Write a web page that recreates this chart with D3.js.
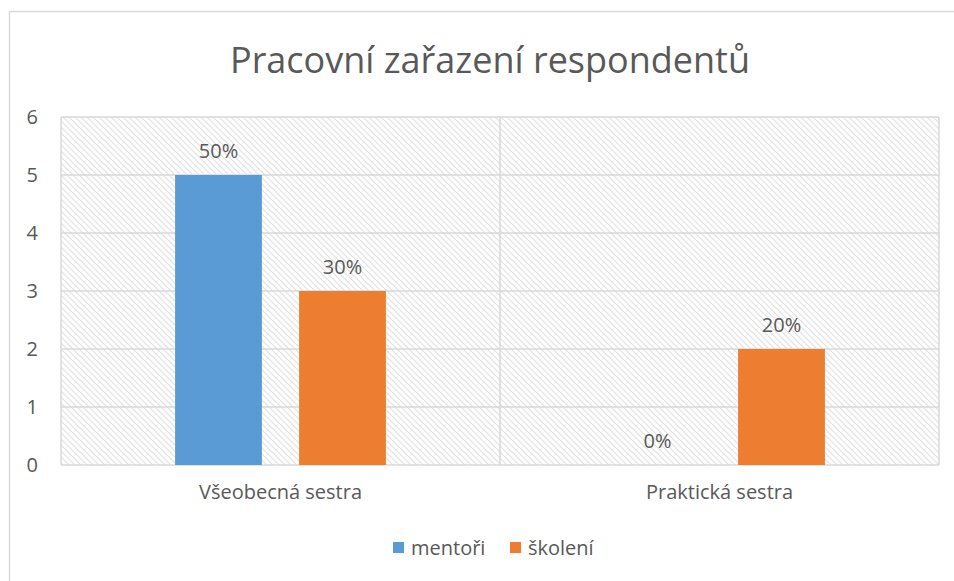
<!DOCTYPE html>
<html>
<head>
<meta charset="utf-8">
<script src="https://cdn.jsdelivr.net/npm/d3@7"></script>
<style>
  body { margin: 0; background: #fff; }
  svg text { font-family: "Open Sans", sans-serif; fill: #595959; }
</style>
</head>
<body>
<div id="chart"></div>
<script>
// Data
const categories = ['Všeobecná sestra', 'Praktická sestra'];
const seriesNames = ['mentoři', 'školení'];
const mentori = [5, 0];
const skoleni = [3, 2];
const mentoriLabels = ['50%', '0%'];
const skoleniLabels = ['30%', '20%'];
const yTicks = [0, 1, 2, 3, 4, 5, 6];
const colors = ['#5b9bd5', '#ed7d31'];

const W = 954, H = 581;
const plot = { left: 61, right: 939, top: 117, bottom: 465 };

const svg = d3.select('#chart').append('svg')
    .attr('width', W)
    .attr('height', H);

// hatch pattern for plot background
const defs = svg.append('defs');
const pat = defs.append('pattern')
    .attr('id', 'hatch')
    .attr('patternUnits', 'userSpaceOnUse')
    .attr('width', 6)
    .attr('height', 6);
pat.append('path')
    .attr('d', 'M-1,-1 L7,7 M-1,5 L1,7 M5,-1 L7,1')
    .attr('stroke', '#e0e0e0')
    .attr('stroke-width', 1.1);

// outer chart border
svg.append('rect')
    .attr('x', 9.5).attr('y', 11.5)
    .attr('width', W + 20).attr('height', H + 20)
    .attr('fill', '#fff')
    .attr('stroke', '#d9d9d9')
    .attr('stroke-width', 1.5);

const x0 = d3.scaleBand()
    .domain(categories)
    .range([plot.left, plot.right]);

const x1 = d3.scaleBand()
    .domain(seriesNames)
    .range([0, x0.bandwidth()])
    .paddingInner(0.3)
    .paddingOuter(0.92);

const y = d3.scaleLinear()
    .domain([0, 6])
    .range([plot.bottom, plot.top]);

// plot area background
svg.append('rect')
    .attr('x', plot.left).attr('y', plot.top)
    .attr('width', plot.right - plot.left)
    .attr('height', plot.bottom - plot.top)
    .attr('fill', 'url(#hatch)');

// horizontal gridlines
svg.append('g')
    .selectAll('line')
    .data(yTicks)
    .join('line')
    .attr('x1', plot.left).attr('x2', plot.right)
    .attr('y1', d => y(d)).attr('y2', d => y(d))
    .attr('stroke', '#d9d9d9')
    .attr('stroke-width', 1.5);

// vertical gridlines (category boundaries)
const bounds = [plot.left, ...categories.map(c => x0(c) + x0.bandwidth())];
svg.append('g')
    .selectAll('line')
    .data(bounds)
    .join('line')
    .attr('x1', d => d).attr('x2', d => d)
    .attr('y1', plot.top).attr('y2', plot.bottom)
    .attr('stroke', '#d9d9d9')
    .attr('stroke-width', 1.5);

// y axis labels
const yAxis = svg.append('g')
    .attr('transform', `translate(${plot.left},0)`)
    .call(d3.axisLeft(y).tickValues(yTicks).tickSize(0).tickPadding(23).tickFormat(d3.format('d')));
yAxis.select('.domain').remove();
yAxis.selectAll('text')
    .style('font-size', '20px')
    .attr('fill', '#595959');

// x axis labels
const xAxis = svg.append('g')
    .attr('transform', `translate(0,${plot.bottom})`)
    .call(d3.axisBottom(x0).tickSize(0).tickPadding(20));
xAxis.select('.domain').remove();
xAxis.selectAll('text')
    .style('font-size', '20px')
    .attr('fill', '#595959');

// bars
const series = [
    { name: seriesNames[0], values: mentori, labels: mentoriLabels, color: colors[0] },
    { name: seriesNames[1], values: skoleni, labels: skoleniLabels, color: colors[1] }
];

series.forEach(s => {
    const g = svg.append('g');
    g.selectAll('rect')
        .data(categories)
        .join('rect')
        .attr('x', (c) => x0(c) + x1(s.name))
        .attr('y', (c, i) => y(s.values[i]))
        .attr('width', x1.bandwidth())
        .attr('height', (c, i) => y(0) - y(s.values[i]))
        .attr('fill', s.color);
    g.selectAll('text')
        .data(categories)
        .join('text')
        .attr('x', (c) => x0(c) + x1(s.name) + x1.bandwidth() / 2)
        .attr('y', (c, i) => y(s.values[i]) - 17)
        .attr('text-anchor', 'middle')
        .style('font-size', '20px')
        .text((c, i) => s.labels[i]);
});

// title
svg.append('text')
    .attr('x', 490)
    .attr('y', 73)
    .attr('text-anchor', 'middle')
    .style('font-size', '36px')
    .text('Pracovní zařazení respondentů');

// legend
const legend = svg.append('g')
    .attr('transform', 'translate(393,548)');
const itemX = [0, 117];
series.forEach((s, i) => {
    const it = legend.append('g').attr('transform', `translate(${itemX[i]},0)`);
    it.append('rect')
        .attr('x', 0).attr('y', -6)
        .attr('width', 11).attr('height', 11)
        .attr('fill', s.color);
    it.append('text')
        .attr('x', 18).attr('y', 7)
        .style('font-size', '20px')
        .text(s.name);
});
</script>
</body>
</html>
